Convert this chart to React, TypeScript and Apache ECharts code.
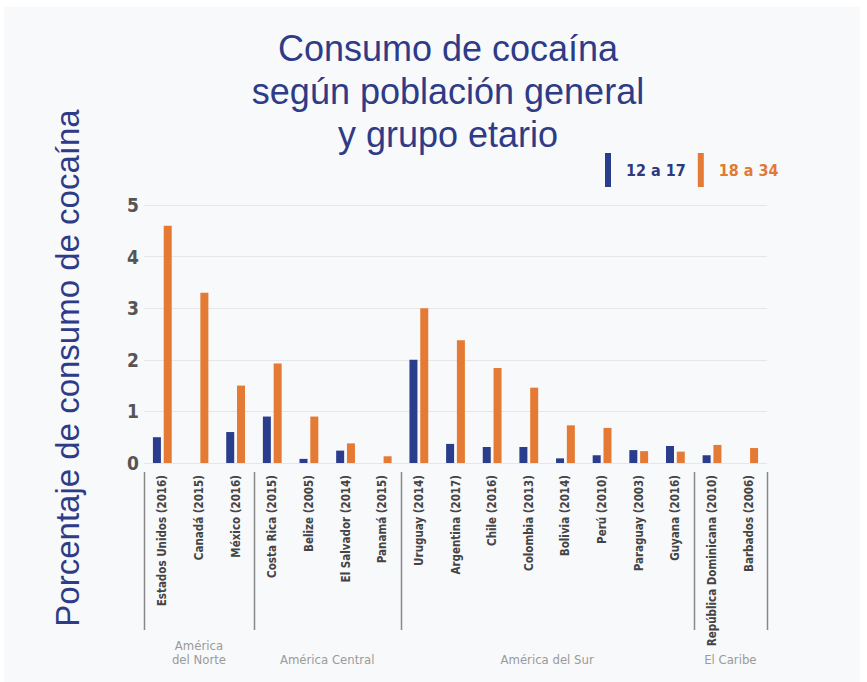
import React, { useEffect, useRef } from "react";
import * as echarts from "echarts";

const categories = [
  "Estados Unidos (2016)",
  "Canadá (2015)",
  "México (2016)",
  "Costa Rica (2015)",
  "Belize (2005)",
  "El Salvador (2014)",
  "Panamá (2015)",
  "Uruguay (2014)",
  "Argentina (2017)",
  "Chile (2016)",
  "Colombia (2013)",
  "Bolivia (2014)",
  "Perú (2010)",
  "Paraguay (2003)",
  "Guyana (2016)",
  "República Dominicana (2010)",
  "Barbados (2006)",
];

const youth12to17: (number | null)[] = [
  0.5, null, 0.6, 0.9, 0.08, 0.24, null, 2.0, 0.37, 0.31, 0.31, 0.09, 0.15, 0.25, 0.33, 0.15, null,
];
const adults18to34: (number | null)[] = [
  4.6, 3.3, 1.5, 1.93, 0.9, 0.38, 0.13, 3.0, 2.38, 1.84, 1.46, 0.73, 0.68, 0.23, 0.22, 0.35, 0.29,
];

const seriesNames = ["12 a 17", "18 a 34"];
const regionNames = ["América\ndel Norte", "América Central", "América del Sur", "El Caribe"];
const regionStarts = [0, 3, 7, 15];
const regionEnds = [3, 7, 15, 17];

const yMin = 0;
const yMax = 5;
const yInterval = 1;

const titleText = "Consumo de cocaína\nsegún población general\ny grupo etario";
const yAxisName = "Porcentaje de consumo de cocaína";

const BLUE = "#2a3d8c";
const ORANGE = "#e47a33";
const TITLE_BLUE = "#2e3b87";
const PANEL = "#f8f9fb";
const COND = '"DejaVu Sans Condensed", "Liberation Sans Narrow", sans-serif';
const SANS = '"Liberation Sans", Arial, Helvetica, sans-serif';

export default function App() {
  const ref = useRef<HTMLDivElement>(null);

  useEffect(() => {
    if (!ref.current) return;
    const chart = echarts.init(ref.current, null, { renderer: "svg" });
    chart.setOption({
      animation: false,
      backgroundColor: PANEL,
      title: {
        text: titleText,
        left: 443,
        top: 22,
        textAlign: "center",
        textStyle: {
          fontFamily: SANS,
          fontSize: 36,
          fontWeight: "normal",
          color: TITLE_BLUE,
          lineHeight: 43,
        },
      },
      legend: {
        left: 600,
        top: 148,
        icon: "rect",
        itemWidth: 6,
        itemHeight: 34,
        itemGap: 12,
        data: [
          { name: seriesNames[0], textStyle: { color: "#2d3a7c" } },
          { name: seriesNames[1], textStyle: { color: "#e07a35" } },
        ],
        textStyle: {
          fontFamily: COND,
          fontWeight: "bold",
          fontSize: 16,
          padding: [0, 0, 0, 10],
        },
      },
      grid: { left: 144, right: 100, top: 205, bottom: 219 },
      xAxis: {
        type: "category",
        data: categories,
        axisLine: { show: false },
        axisTick: { show: false },
        axisLabel: {
          interval: 0,
          rotate: 90,
          margin: 12,
          fontFamily: COND,
          fontWeight: "bold",
          fontSize: 11.5,
          color: "#444",
        },
      },
      yAxis: {
        type: "value",
        min: yMin,
        max: yMax,
        interval: yInterval,
        axisLine: { show: false },
        axisTick: { show: false },
        splitLine: { lineStyle: { color: "#e4e6ea", width: 1 } },
        axisLabel: {
          margin: 5,
          fontFamily: COND,
          fontWeight: "bold",
          fontSize: 19,
          color: "#555",
        },
      },
      series: [
        {
          name: seriesNames[0],
          type: "bar",
          data: youth12to17,
          barWidth: 8,
          barGap: "35%",
          itemStyle: { color: BLUE },
        },
        {
          name: seriesNames[1],
          type: "bar",
          data: adults18to34,
          barWidth: 8,
          barGap: "35%",
          itemStyle: { color: ORANGE },
        },
      ],
    });

    const c0 = chart.convertToPixel({ xAxisIndex: 0 }, 0) as number;
    const c1 = chart.convertToPixel({ xAxisIndex: 0 }, 1) as number;
    const bw = c1 - c0;
    const edge = (i: number) => c0 + (i - 0.5) * bw;
    const boundaries = Array.from(new Set([...regionStarts, ...regionEnds])).sort((a, b) => a - b);

    const graphics: any[] = [
      { type: "rect", shape: { x: 0, y: 0, width: 867, height: 7 }, style: { fill: "#ffffff" }, silent: true },
      { type: "rect", shape: { x: 0, y: 0, width: 4, height: 682 }, style: { fill: "#ffffff" }, silent: true },
      { type: "rect", shape: { x: 860, y: 0, width: 7, height: 682 }, style: { fill: "#ffffff" }, silent: true },
      {
        type: "text",
        x: 67,
        y: 368,
        rotation: Math.PI / 2,
        style: {
          text: yAxisName,
          fontFamily: SANS,
          fontSize: 33,
          fill: TITLE_BLUE,
          align: "center",
          verticalAlign: "middle",
        },
      },
    ];
    boundaries.forEach((b) => {
      const x = Math.round(edge(b)) + 0.5;
      graphics.push({
        type: "line",
        shape: { x1: x, y1: 472, x2: x, y2: 630 },
        style: { stroke: "#888", lineWidth: 1.5 },
        silent: true,
      });
    });
    regionNames.forEach((name, i) => {
      const cx = (edge(regionStarts[i]) + edge(regionEnds[i])) / 2;
      graphics.push({
        type: "text",
        x: cx,
        y: 666,
        style: {
          text: name,
          fontFamily: COND,
          fontSize: 13,
          lineHeight: 14,
          fill: "#9a9a9a",
          align: "center",
          verticalAlign: "bottom",
        },
      });
    });
    chart.setOption({ graphic: graphics });

    return () => chart.dispose();
  }, []);

  return (
    <div
      ref={ref}
      style={{ position: "fixed", left: 0, top: 0, width: 867, height: 682 }}
    />
  );
}
